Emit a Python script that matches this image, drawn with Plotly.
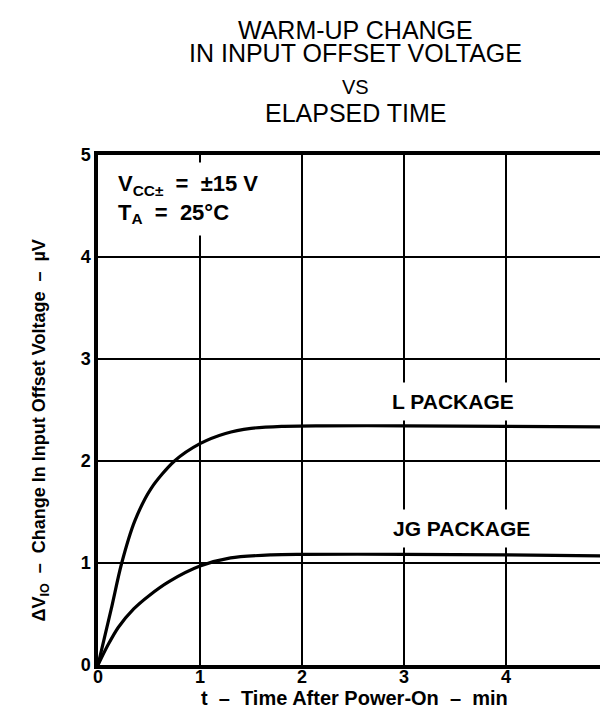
import plotly.graph_objects as go

# Data
t_L = [0, 0.13, 0.23, 0.36, 0.52, 0.75, 1.0, 1.25, 1.5, 1.8, 2.2, 3.0, 4.0, 5.0]
v_L = [0, 0.55, 0.99, 1.41, 1.73, 2.0, 2.17, 2.27, 2.32, 2.34, 2.345, 2.345, 2.34, 2.335]
t_JG = [0, 0.1, 0.2, 0.35, 0.5, 0.7, 1.0, 1.3, 1.7, 2.0, 3.0, 4.0, 5.0]
v_JG = [0, 0.2, 0.37, 0.55, 0.68, 0.82, 0.97, 1.05, 1.08, 1.085, 1.085, 1.08, 1.07]
x_ticks = [0, 1, 2, 3, 4, 5]
y_ticks = [0, 1, 2, 3, 4, 5]

FONT = "Liberation Sans, Arial, Helvetica, sans-serif"

fig = go.Figure()
for tx, vy in [(t_L, v_L), (t_JG, v_JG)]:
    fig.add_trace(go.Scatter(x=tx, y=vy, mode="lines",
                             line=dict(color="black", width=3.2, shape="spline", smoothing=0.8),
                             showlegend=False, hoverinfo="skip"))

axis_common = dict(showgrid=True, gridcolor="black", gridwidth=1.5,
                   showline=True, linecolor="black", linewidth=3.5, mirror=True,
                   zeroline=False, ticks="", range=[0, 5],
                   tickfont=dict(family=FONT, size=18, color="black", weight="bold"))
fig.update_xaxes(tickvals=x_ticks, ticktext=[str(v) for v in x_ticks],
                 ticklabelstandoff=-7, **axis_common)
fig.update_yaxes(tickvals=y_ticks, ticktext=[str(v) for v in y_ticks], **axis_common)

anns = []
# Title lines
title_lines = [("WARM-UP CHANGE", 22, 25), ("IN INPUT OFFSET VOLTAGE", 45, 25),
               ("VS", 79, 20), ("ELAPSED TIME", 105, 25)]
for txt, ypx, sz in title_lines:
    anns.append(dict(text=txt, xref="paper", yref="paper", x=(350 - 90) / 514,
                     y=(657 - ypx) / 510, xanchor="center", yanchor="middle",
                     showarrow=False, font=dict(family=FONT, size=sz, color="black")))
# axis titles
anns.append(dict(text="t  –  Time After Power-On  –  min", xref="paper", yref="paper",
                 x=(349 - 90) / 514, y=(657 - 690) / 510, xanchor="center", yanchor="middle",
                 showarrow=False, font=dict(family=FONT, size=20, color="black", weight="bold")))
anns.append(dict(text="ΔV<sub>IO</sub>  –  Change In Input Offset Voltage  –  µV",
                 xref="paper", yref="paper", x=(32 - 90) / 514, y=(657 - 422) / 510,
                 xanchor="center", yanchor="middle", textangle=-90, showarrow=False,
                 font=dict(family=FONT, size=18, color="black", weight="bold")))
# Conditions box
anns.append(dict(text="V<sub>CC±</sub>  =  ±15 V<br>T<sub>A</sub>  =  25°C", xref="paper", yref="paper",
                 x=(101 - 90) / 514, y=(657 - 191) / 510, xanchor="left", yanchor="middle",
                 align="left", showarrow=False, bgcolor="white", borderpad=8,
                 font=dict(family=FONT, size=22, color="black", weight="bold")))
# Package labels
anns.append(dict(text="L PACKAGE", xref="paper", yref="paper", x=(448 - 90) / 514,
                 y=(657 - 393) / 510, xanchor="center", yanchor="middle", showarrow=False,
                 bgcolor="white", borderpad=7,
                 font=dict(family=FONT, size=21, color="black", weight="bold")))
anns.append(dict(text="JG PACKAGE", xref="paper", yref="paper", x=(456 - 90) / 514,
                 y=(657 - 520) / 510, xanchor="center", yanchor="middle", showarrow=False,
                 bgcolor="white", borderpad=7,
                 font=dict(family=FONT, size=21, color="black", weight="bold")))

fig.update_layout(width=608, height=724, margin=dict(l=90, r=4, t=147, b=67),
                  paper_bgcolor="white", plot_bgcolor="white", annotations=anns,
                  font=dict(family=FONT, color="black"))
fig.write_html("out.html")
